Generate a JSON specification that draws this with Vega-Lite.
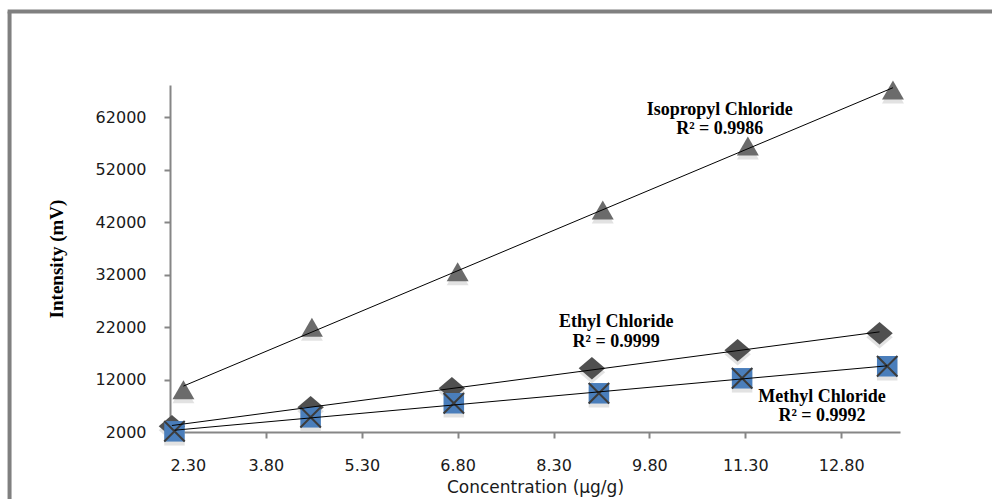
{
  "$schema": "https://vega.github.io/schema/vega-lite/v6.json",
  "width": 730,
  "height": 347,
  "autosize": "none",
  "padding": {"left": 170, "top": 85, "right": 92, "bottom": 67},
  "background": "white",
  "config": {"view": {"stroke": null}},
  "datasets": {
    "pts": [
      {"series": "Isopropyl Chloride", "conc": 2.51, "intensity": 10050},
      {"series": "Isopropyl Chloride", "conc": 4.52, "intensity": 21980},
      {"series": "Isopropyl Chloride", "conc": 6.80, "intensity": 32530},
      {"series": "Isopropyl Chloride", "conc": 9.07, "intensity": 44300},
      {"series": "Isopropyl Chloride", "conc": 11.34, "intensity": 56510},
      {"series": "Isopropyl Chloride", "conc": 13.61, "intensity": 67180},
      {"series": "Ethyl Chloride", "conc": 2.33, "intensity": 3090},
      {"series": "Ethyl Chloride", "conc": 4.50, "intensity": 6710},
      {"series": "Ethyl Chloride", "conc": 6.71, "intensity": 10340},
      {"series": "Ethyl Chloride", "conc": 8.90, "intensity": 14150},
      {"series": "Ethyl Chloride", "conc": 11.18, "intensity": 17580},
      {"series": "Ethyl Chloride", "conc": 13.40, "intensity": 20830},
      {"series": "Methyl Chloride", "conc": 2.37, "intensity": 2130},
      {"series": "Methyl Chloride", "conc": 4.50, "intensity": 4800},
      {"series": "Methyl Chloride", "conc": 6.74, "intensity": 7480},
      {"series": "Methyl Chloride", "conc": 9.01, "intensity": 9380},
      {"series": "Methyl Chloride", "conc": 11.25, "intensity": 12240},
      {"series": "Methyl Chloride", "conc": 13.52, "intensity": 14530}
    ],
    "labels": [
      {"label": "Isopropyl Chloride", "conc": 10.90, "intensity": 63380},
      {"label": "R² = 0.9986", "conc": 10.90, "intensity": 59760},
      {"label": "Ethyl Chloride", "conc": 9.28, "intensity": 22930},
      {"label": "R² = 0.9999", "conc": 9.28, "intensity": 19110},
      {"label": "Methyl Chloride", "conc": 12.50, "intensity": 8620},
      {"label": "R² = 0.9992", "conc": 12.50, "intensity": 4990}
    ]
  },
  "layer": [
    {
      "encoding": {
        "x": {
          "field": "conc",
          "type": "quantitative",
          "scale": {"domain": [2.3, 13.72], "nice": false, "zero": false},
          "axis": {
            "title": "Concentration (µg/g)",
            "values": [2.3, 3.8, 5.3, 6.8, 8.3, 9.8, 11.3, 12.8],
            "format": ".2f",
            "grid": false,
            "domainColor": "#868686",
            "domainWidth": 2,
            "tickColor": "#868686",
            "tickWidth": 2,
            "tickSize": 6,
            "labelFont": "DejaVu Sans",
            "labelFontSize": 16,
            "labelColor": "#1a1a1a",
            "labelPadding": 19,
            "titleFont": "DejaVu Sans",
            "titleFontSize": 17,
            "titleFontWeight": "normal",
            "titleColor": "#1a1a1a",
            "titlePadding": 6
          }
        },
        "y": {
          "field": "intensity",
          "type": "quantitative",
          "scale": {"domain": [2000, 68150], "nice": false, "zero": false},
          "axis": {
            "title": "Intensity (mV)",
            "values": [2000, 12000, 22000, 32000, 42000, 52000, 62000],
            "format": "d",
            "grid": false,
            "domainColor": "#868686",
            "domainWidth": 2,
            "tickColor": "#868686",
            "tickWidth": 2,
            "tickSize": 6,
            "labelFont": "DejaVu Sans",
            "labelFontSize": 16,
            "labelColor": "#1a1a1a",
            "labelPadding": 18,
            "titleFont": "Liberation Serif",
            "titleFontSize": 19,
            "titleFontWeight": "bold",
            "titleColor": "#000000",
            "titlePadding": 29
          }
        }
      },
      "layer": [
        {
          "data": {"name": "pts"},
          "transform": [{"filter": "datum.series === 'Isopropyl Chloride'"}],
          "mark": {"type": "point", "shape": "triangle-up", "size": 480, "filled": true, "color": "#cfcfcf", "opacity": 0.6, "yOffset": 4, "clip": false}
        },
        {
          "data": {"name": "pts"},
          "transform": [{"filter": "datum.series === 'Ethyl Chloride'"}],
          "mark": {"type": "point", "shape": "M-1,0L0,-0.85L1,0L0,0.85Z", "size": 700, "filled": true, "color": "#cfcfcf", "opacity": 0.6, "yOffset": 4, "clip": false}
        },
        {
          "data": {"name": "pts"},
          "transform": [{"filter": "datum.series === 'Methyl Chloride'"}],
          "mark": {"type": "point", "shape": "square", "size": 420, "filled": true, "color": "#cfcfcf", "opacity": 0.6, "yOffset": 4, "clip": false}
        },
        {
          "data": {"name": "pts"},
          "transform": [{"filter": "datum.series === 'Isopropyl Chloride'"}],
          "mark": {"type": "point", "shape": "triangle-up", "size": 480, "filled": true, "color": "#6b6b6b", "opacity": 1, "clip": false}
        },
        {
          "data": {"name": "pts"},
          "transform": [{"filter": "datum.series === 'Ethyl Chloride'"}],
          "mark": {"type": "point", "shape": "M-1,0L0,-0.85L1,0L0,0.85Z", "size": 700, "filled": true, "color": "#505050", "opacity": 1, "clip": false}
        },
        {
          "data": {"name": "pts"},
          "transform": [{"filter": "datum.series === 'Methyl Chloride'"}],
          "mark": {"type": "point", "shape": "square", "size": 420, "filled": true, "color": "#4a7ebb", "opacity": 1, "clip": false}
        },
        {
          "data": {"name": "pts"},
          "transform": [{"filter": "datum.series === 'Methyl Chloride'"}],
          "mark": {"type": "point", "shape": "M-1,-1L1,1M-1,1L1,-1", "size": 420, "filled": false, "stroke": "#3c3c3c", "strokeWidth": 2, "opacity": 1, "clip": false}
        },
        {
          "data": {"name": "pts"},
          "transform": [{"regression": "intensity", "on": "conc", "groupby": ["series"]}],
          "mark": {"type": "line", "color": "#000000", "strokeWidth": 1, "clip": false},
          "encoding": {"detail": {"field": "series"}}
        },
        {
          "data": {"name": "labels"},
          "mark": {"type": "text", "font": "Liberation Serif", "fontSize": 18, "fontWeight": "bold", "color": "#000000", "align": "center", "baseline": "middle"},
          "encoding": {"text": {"field": "label"}}
        }
      ]
    },
    {
      "data": {"values": [{}]},
      "mark": {"type": "rule", "color": "#808080", "strokeWidth": 4, "clip": false},
      "encoding": {
        "x": {"datum": -0.21, "type": "quantitative"},
        "y": {"datum": 82170, "type": "quantitative"},
        "y2": {"datum": -13000}
      }
    },
    {
      "data": {"values": [{}]},
      "mark": {"type": "rule", "color": "#808080", "strokeWidth": 4, "clip": false},
      "encoding": {
        "x": {"datum": -0.24, "type": "quantitative"},
        "x2": {"datum": 15.4},
        "y": {"datum": 82170, "type": "quantitative"}
      }
    }
  ]
}
